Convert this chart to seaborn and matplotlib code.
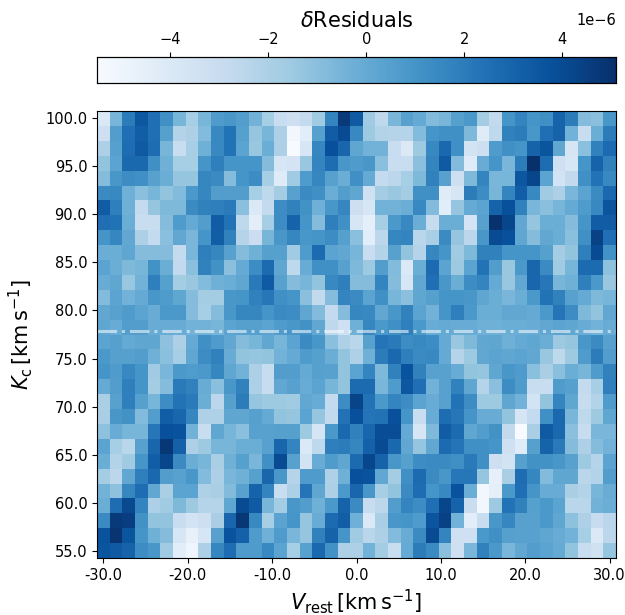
import numpy as np
import pandas as pd
import matplotlib
matplotlib.use("Agg")
import matplotlib.pyplot as plt
import seaborn as sns

# residual differences in units of 1e-6, top row is Kc = 100
row_00 = [-4.0,-0.5,2.0,3.5,2.5,1.2,-0.5,-1.8,-0.5,0.7,0.9,0.6,-0.4,-1.8,-3.0,-3.2,-2.8,-1.6,1.7,4.7,3.4,-1.6,-2.6,-0.6,0.4,0.0,-0.8,-0.5,0.5,0.8,-1.7,-2.7,1.0,1.7,1.0,1.2,3.0,2.0,-0.9,-1.0,0.9]
row_01 = [-3.2,0.6,2.5,3.2,2.5,0.5,-2.2,-2.0,-0.8,1.5,2.4,0.5,-1.3,-0.5,-2.0,-5.2,-4.3,0.5,3.3,4.0,1.5,-1.5,-2.2,-2.3,-2.3,-0.8,1.0,1.2,1.2,-0.7,-4.2,-2.6,1.8,2.0,0.9,2.5,3.0,-0.4,-3.0,-0.2,2.0]
row_02 = [-2.0,0.5,2.6,3.4,2.6,-0.5,-3.0,-1.8,-0.3,1.5,2.4,0.3,-1.4,-0.2,-2.0,-5.5,-3.8,1.6,3.8,2.9,0.2,-0.4,-0.4,-3.0,-4.0,-1.5,1.5,2.8,1.2,-3.5,-3.2,0.7,1.2,1.0,3.0,3.6,0.2,-3.7,-1.0,1.8,2.7]
row_03 = [-1.2,0.3,2.8,2.8,1.2,-0.3,-1.8,-1.8,1.0,1.9,1.0,1.0,1.0,-0.9,-3.8,-3.6,-1.4,1.7,2.6,0.9,0.7,0.9,-1.0,-3.0,-3.0,-1.0,1.7,3.4,-0.8,-4.2,-0.1,1.0,-0.6,2.0,5.1,2.6,-3.3,-3.8,1.0,3.0,1.8]
row_04 = [-0.9,0.9,1.3,1.2,0.4,-0.2,-1.3,-1.3,1.6,1.4,-0.9,1.0,1.3,-1.8,-4.2,-1.6,0.7,1.6,0.4,-0.2,1.2,0.0,-2.8,-2.5,-1.8,-0.7,1.8,0.4,-3.2,-0.7,1.7,-0.6,-0.5,3.5,4.2,0.3,-3.5,-2.7,1.2,2.4,1.5]
row_05 = [1.4,1.5,-0.3,-1.0,-0.5,-1.2,-0.8,0.8,1.6,0.6,0.6,0.6,-1.8,-2.6,-1.7,0.4,1.4,1.2,-0.2,0.6,0.2,-3.3,-1.7,-1.4,-1.7,1.2,1.2,-4.2,-3.8,2.0,1.3,-0.5,1.7,3.2,1.5,-1.6,-2.0,-0.6,0.3,1.4,2.8]
row_06 = [3.3,1.9,-0.3,-2.8,-1.3,-0.7,-0.7,1.4,1.8,1.9,2.1,-1.0,-4.0,-2.8,1.3,1.8,1.1,-0.3,0.9,1.6,-3.2,-3.8,-0.4,-0.4,-0.2,1.5,-0.8,-4.3,-1.3,0.0,0.3,3.0,3.8,1.8,-0.6,-1.0,-0.5,0.0,0.7,1.5,3.6]
row_07 = [2.5,2.4,-0.2,-3.0,-3.0,-0.9,0.7,0.0,0.6,3.3,2.4,-2.6,-4.4,-1.8,1.3,3.0,1.0,-0.9,1.9,1.2,-3.8,-4.5,-1.8,0.8,1.5,-0.2,-2.9,-0.2,-0.2,-3.6,0.4,5.0,4.2,0.1,-1.3,-0.2,-0.2,-0.9,1.0,3.3,3.3]
row_08 = [1.0,1.6,0.1,-2.0,-2.8,-1.0,0.1,-0.6,1.0,3.2,1.8,-2.3,-3.1,-0.5,0.9,1.6,0.9,1.0,1.3,0.5,-1.0,-4.3,-2.5,1.6,1.7,-2.4,-1.9,1.4,-1.3,-2.5,0.9,4.0,3.8,0.2,-0.9,0.1,-0.2,-1.0,1.2,4.4,2.5]
row_09 = [-0.2,-0.2,0.2,-0.9,-0.9,-0.9,-2.8,-0.6,1.9,1.6,0.4,-0.9,-0.3,0.5,0.5,-1.6,0.7,2.7,0.3,0.1,-0.5,-3.0,-2.2,0.4,-1.2,-2.3,1.6,1.0,-1.6,-0.7,1.8,1.8,1.0,1.0,1.0,0.5,-1.7,-1.2,1.9,4.0,1.1]
row_10 = [0.3,-0.2,-0.7,-0.5,1.1,-0.2,-2.7,-1.0,1.8,1.1,-1.0,0.0,1.3,2.7,0.2,-2.6,-0.1,1.2,1.2,0.4,-0.7,-1.5,0.6,-0.8,-4.0,-0.2,2.7,0.3,-1.5,0.3,2.4,0.6,-1.4,0.8,2.9,1.4,-1.6,-0.5,2.7,2.7,-1.1]
row_11 = [-0.1,0.2,-1.4,-0.4,1.9,0.5,-1.7,-1.4,-0.8,-0.3,-0.2,0.2,2.1,3.4,0.4,-0.9,-0.5,-1.2,1.5,1.9,-0.9,-0.9,1.7,-0.9,-3.8,0.1,2.5,0.9,-0.2,1.3,1.7,0.0,-1.4,0.1,2.9,2.2,-0.5,-0.3,1.9,0.8,-1.4]
row_12 = [-0.8,0.3,-0.4,0.0,0.9,0.7,0.2,-0.9,-1.7,-1.7,0.9,1.0,1.8,2.2,1.2,1.0,-1.0,-2.7,-0.9,1.7,1.4,0.3,1.2,-0.5,-1.0,0.2,0.5,1.0,1.0,0.9,0.2,-0.2,-0.6,-0.2,0.8,2.4,1.8,0.4,0.0,-0.7,-0.5]
row_13 = [0.1,0.4,0.7,0.3,-0.1,0.8,0.8,-0.9,-1.8,-0.9,0.9,1.6,1.6,1.0,1.4,1.3,0.2,-0.8,-2.8,-0.9,1.6,1.5,0.1,0.9,1.8,0.3,-0.4,1.0,1.9,0.8,-0.2,-0.2,0.1,0.1,0.0,0.8,2.3,1.3,-0.7,-1.2,0.1]
row_14 = [0.2,-0.1,0.6,0.6,-0.1,-0.1,-0.1,-0.4,-0.4,-0.5,0.3,0.5,0.5,0.3,0.7,0.9,1.1,0.1,-2.6,-3.3,-0.3,1.6,0.8,1.2,1.9,0.8,-0.1,0.0,-0.1,-0.1,-0.3,-0.3,-0.2,-0.2,-0.1,0.1,0.3,0.2,-0.1,-0.4,-0.1]
row_15 = [0.3,0.5,0.0,0.2,0.2,-1.1,-2.0,0.0,1.2,0.7,0.1,-0.9,-0.5,0.1,-0.5,0.3,1.4,0.9,-1.0,-2.1,-2.4,0.4,2.3,2.1,1.3,1.5,1.3,0.0,-1.4,-0.7,0.1,0.2,-0.3,0.0,0.2,-0.2,-1.5,-1.3,0.9,1.4,0.4]
row_16 = [0.8,0.5,0.5,0.6,-0.3,-1.0,-1.8,0.2,1.3,1.8,-0.1,-1.2,-1.3,-1.2,-0.4,0.0,0.7,0.5,-0.2,-1.2,-2.1,-0.3,2.0,2.8,1.9,1.4,1.5,0.0,-2.3,-1.5,0.1,0.3,0.2,0.3,0.1,-1.4,-2.6,-1.5,0.7,2.0,0.6]
row_17 = [1.0,0.7,1.5,1.0,-1.6,-0.6,0.8,0.7,0.8,1.6,0.2,-0.4,-2.0,-2.9,0.6,0.6,0.0,0.5,0.4,-1.2,0.3,1.7,-0.7,1.8,3.7,1.8,0.4,0.4,-0.1,-1.2,-1.3,0.2,0.9,0.7,-1.0,-1.9,-1.0,-0.2,-0.5,0.7,1.8]
row_18 = [0.0,0.6,1.9,1.0,-1.7,-0.9,2.1,1.8,-0.1,-1.0,0.9,1.8,-2.0,-2.9,0.1,0.4,-0.1,0.3,-0.5,-1.2,2.7,2.7,-0.6,0.7,3.5,2.5,-0.4,0.4,1.8,0.2,-2.3,-1.0,1.3,0.7,-3.0,-3.0,0.7,0.5,-2.8,-1.8,1.9]
row_19 = [-1.9,0.4,1.9,0.5,-0.5,1.3,2.4,2.1,-0.2,-2.5,0.5,2.0,-1.3,-1.5,-1.5,-1.6,0.1,-0.1,-2.8,1.3,4.3,2.4,0.8,1.7,1.3,0.3,-0.1,0.4,2.4,1.3,-1.5,-1.5,0.2,-0.4,-3.5,-1.2,1.7,0.2,-2.9,-2.2,0.7]
row_20 = [-1.9,0.9,1.1,-0.8,0.6,3.2,2.9,1.6,-2.1,-2.1,0.2,0.2,0.5,0.0,-1.2,-1.3,0.3,-1.3,-2.7,2.4,3.8,2.3,2.4,3.8,1.0,-3.0,-0.1,2.6,2.2,1.0,-0.1,-0.1,-1.2,-3.7,-2.8,1.2,2.8,-0.6,-2.6,-1.5,0.2]
row_21 = [-1.1,-0.1,-0.5,-0.5,2.2,3.8,3.7,-0.4,-3.0,0.2,-0.5,-1.0,0.4,0.4,0.5,0.5,-1.5,-3.7,0.8,2.8,1.8,2.9,3.9,3.9,0.0,-3.8,-0.7,3.3,2.7,0.2,0.6,1.1,-2.7,-5.5,-1.9,3.4,2.8,-1.0,-2.9,-0.6,-0.6]
row_22 = [0.3,-1.8,-2.4,0.4,2.9,4.8,3.1,-2.0,-1.5,-0.5,-0.5,-0.2,-0.2,0.4,2.9,1.7,-4.0,-2.6,1.9,2.0,1.6,3.1,4.0,2.8,0.1,-1.3,0.1,2.7,2.3,1.2,1.2,1.0,-3.3,-4.2,0.5,3.0,2.1,-0.9,-2.0,-0.9,-0.4]
row_23 = [-0.2,-2.2,-1.6,1.0,3.2,4.2,1.4,-0.2,-0.5,-1.9,-0.3,0.5,-0.6,1.2,4.0,0.4,-3.5,-0.1,0.7,0.2,2.7,4.2,3.0,0.9,0.5,1.3,1.4,1.4,1.2,2.1,1.2,-3.2,-3.5,0.5,1.1,1.1,0.9,0.4,-1.5,-2.3,0.3]
row_24 = [-1.7,-2.5,0.1,1.9,2.8,0.6,0.4,0.9,-0.8,-2.0,-0.6,-0.3,0.5,2.9,0.9,-2.3,0.7,0.7,-2.1,-0.3,3.8,3.7,0.1,-1.7,1.2,2.7,1.4,0.9,2.2,2.2,-1.3,-4.6,-1.9,2.6,1.6,-0.8,0.2,0.2,-2.4,-2.2,0.6]
row_25 = [-0.4,-1.1,1.6,2.6,0.1,-1.9,0.3,0.3,-2.1,-1.9,-0.8,0.4,3.0,1.7,-3.0,-2.0,2.3,0.2,-2.0,0.8,2.9,0.9,-1.8,-1.2,1.4,2.6,1.0,1.5,3.7,-0.2,-5.2,-4.5,0.8,2.5,1.0,-0.1,-0.1,-1.9,-2.2,-0.5,-0.1]
row_26 = [-0.2,2.6,4.1,1.7,-2.0,-1.6,-0.7,-1.5,-2.3,-2.3,0.2,4.0,3.4,-0.5,-1.7,0.9,0.6,-0.3,0.8,3.0,1.4,-2.9,-2.5,0.6,1.7,1.3,2.5,4.2,3.0,-3.0,-5.2,-1.5,2.4,1.8,0.5,0.8,0.3,-2.4,-2.4,-0.4,-0.2]
row_27 = [1.4,4.7,4.5,1.1,-1.2,-1.2,-3.0,-3.5,-3.2,-1.9,2.9,4.8,1.5,-1.8,0.3,1.0,-1.3,-0.1,2.7,3.2,-0.3,-4.0,-1.9,0.9,1.0,0.7,3.6,4.4,-0.4,-4.3,-3.0,0.9,1.6,0.4,0.4,0.8,0.2,-1.1,-2.0,-2.9,-2.4]
row_28 = [3.7,4.9,3.6,1.0,-0.3,-0.9,-3.8,-4.7,-3.8,0.4,3.7,3.1,0.7,-0.3,0.7,-0.6,-1.3,1.8,3.0,1.0,-1.6,-2.4,-2.0,-0.8,-0.1,1.4,4.0,1.7,-3.3,-3.3,0.8,1.2,0.5,0.4,0.4,0.2,-0.1,-0.4,-1.8,-4.0,-2.5]
row_29 = [3.6,3.4,3.0,1.3,0.9,-1.6,-4.3,-5.0,-2.0,1.6,2.6,0.7,0.7,1.5,0.3,-1.8,0.4,2.8,1.1,-2.0,-2.0,-0.4,-1.7,-3.0,0.0,2.0,1.4,-1.0,-3.3,-0.6,1.8,0.8,-0.6,0.1,0.6,0.3,0.0,-1.2,-3.0,-3.4,-1.3]

rows = [row_00, row_01, row_02, row_03, row_04, row_05, row_06, row_07, row_08, row_09,
        row_10, row_11, row_12, row_13, row_14, row_15, row_16, row_17, row_18, row_19,
        row_20, row_21, row_22, row_23, row_24, row_25, row_26, row_27, row_28, row_29]

v_rest = np.linspace(-30, 30, 41)
k_c = np.linspace(100, 55, 30)
v_ticks = [-30, -20, -10, 0, 10, 20, 30]
k_ticks = [55, 60, 65, 70, 75, 80, 85, 90, 95, 100]
k_planet = 77.9
VMIN = -5.5e-6
VMAX = 5.1e-6

df = pd.DataFrame(np.array(rows) * 1e-6, index=k_c, columns=v_rest)

fig = plt.figure(figsize=(6.25, 6.15), dpi=100)
ax = fig.add_axes([97 / 625, 1 - 558 / 615, 519 / 625, 447 / 615])
cax = fig.add_axes([97 / 625, 1 - 83 / 615, 519 / 625, 26 / 615])

sns.heatmap(df, ax=ax, cmap="Blues", vmin=VMIN, vmax=VMAX, cbar_ax=cax,
            cbar_kws={"orientation": "horizontal"}, xticklabels=False,
            yticklabels=False, square=False, rasterized=True)


# heatmap works in cell index units, so convert the physical values
def v_to_cell(v):
    return (np.asarray(v, dtype=float) - v_rest[0]) / (v_rest[1] - v_rest[0]) + 0.5


def k_to_cell(k):
    return (np.asarray(k, dtype=float) - k_c[0]) / (k_c[1] - k_c[0]) + 0.5


ax.set_xticks(v_to_cell(v_ticks))
ax.set_xticklabels([f"{t:.1f}" for t in v_ticks], rotation=0, fontsize=10.5)
ax.set_yticks(k_to_cell(k_ticks))
ax.set_yticklabels([f"{t:.1f}" for t in k_ticks], rotation=0, fontsize=10.5)
ax.tick_params(length=3.5, width=0.8, color="k")
for spine in ax.spines.values():
    spine.set_visible(True)
    spine.set_linewidth(0.8)

ax.axhline(k_to_cell(k_planet), color="white", alpha=0.55, linestyle="-.", linewidth=2.2)

ax.set_xlabel(r"$V_\mathrm{rest}\,[\mathrm{km\,s^{-1}}]$", fontsize=15, labelpad=3)
ax.set_ylabel(r"$K_\mathrm{c}\,[\mathrm{km\,s^{-1}}]$", fontsize=15, labelpad=7)

cax.xaxis.set_ticks_position("top")
cax.xaxis.set_label_position("top")
cax.tick_params(labelsize=10.5, length=3.5, width=0.8)
cax.set_xlabel(r"$\delta$Residuals", fontsize=15, labelpad=4)
cax.xaxis.get_offset_text().set_fontsize(10.5)
for spine in cax.spines.values():
    spine.set_visible(True)
    spine.set_linewidth(0.8)

fig.savefig("out.png", dpi=100)
